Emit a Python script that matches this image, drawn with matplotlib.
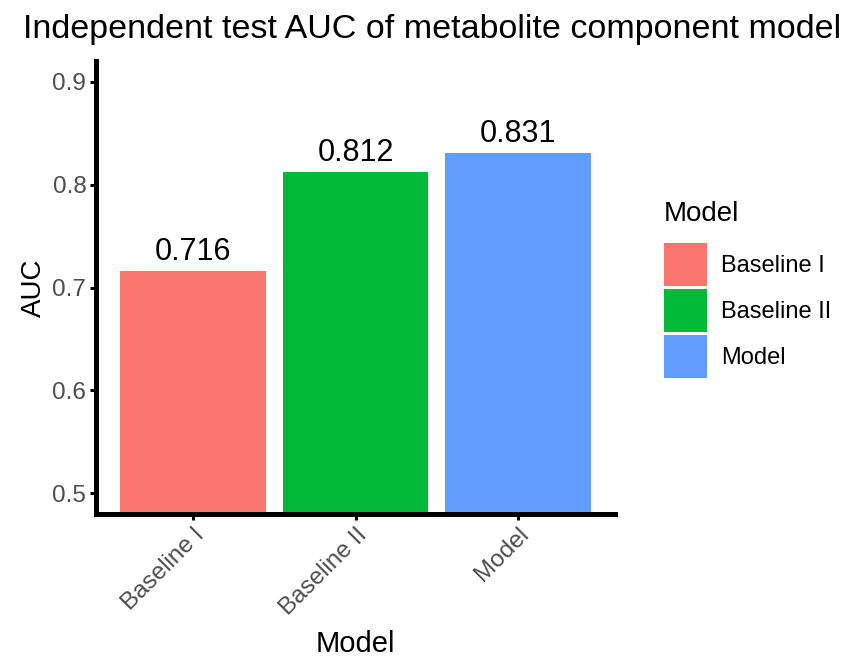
import matplotlib.pyplot as plt
from matplotlib.patches import Patch

plt.rcParams['font.family'] = ['Liberation Sans', 'DejaVu Sans']

# AUC on the independent test set
models = ['Baseline I', 'Baseline II', 'Model']
auc = [0.716, 0.812, 0.831]
colors = ['#F8766D', '#00BA38', '#619CFF']
yticks = [0.5, 0.6, 0.7, 0.8, 0.9]

fig = plt.figure(figsize=(8.65, 6.58), dpi=100)
ax = fig.add_axes([0.111, 0.219, 0.600, 0.688])

x = range(len(models))
bars = ax.bar(x, auc, width=0.9, color=colors, zorder=2)
for xi, v in zip(x, auc):
    ax.annotate(f'{v:.3f}', (xi, v), xytext=(0, 3), textcoords='offset points',
                ha='center', va='bottom', fontsize=22, color='black')

ax.set_xlim(-0.6, len(models) - 0.4)
ax.set_ylim(0.48, 0.92)
ax.set_yticks(yticks)
ax.set_yticklabels([f'{t:.1f}' for t in yticks])
ax.set_xticks(list(x))
ax.set_xticklabels(models, rotation=45, ha='right', rotation_mode='anchor')

for side in ['top', 'right']:
    ax.spines[side].set_visible(False)
for side in ['left', 'bottom']:
    ax.spines[side].set_linewidth(3.6)
ax.tick_params(axis='both', labelsize=17.5, labelcolor='#4D4D4D', width=2.2,
               length=4, pad=3)

ax.set_ylabel('AUC', fontsize=20, labelpad=4)
ax.set_xlabel('Model', fontsize=21, labelpad=8)
fig.suptitle('Independent test AUC of metabolite component model',
             fontsize=24.5, x=0.5, y=0.978)

handles = [Patch(facecolor=c, edgecolor='none') for c in colors]
leg = fig.legend(handles, models, title='Model', loc='upper left',
                 bbox_to_anchor=(0.754, 0.713), frameon=False, fontsize=17,
                 title_fontsize=20, handlelength=1.82, handleheight=2.42,
                 labelspacing=0.13, handletextpad=0.6, borderpad=0)
leg._legend_box.align = 'left'
leg._legend_box.sep = 12

fig.savefig('out.png', dpi=100)
